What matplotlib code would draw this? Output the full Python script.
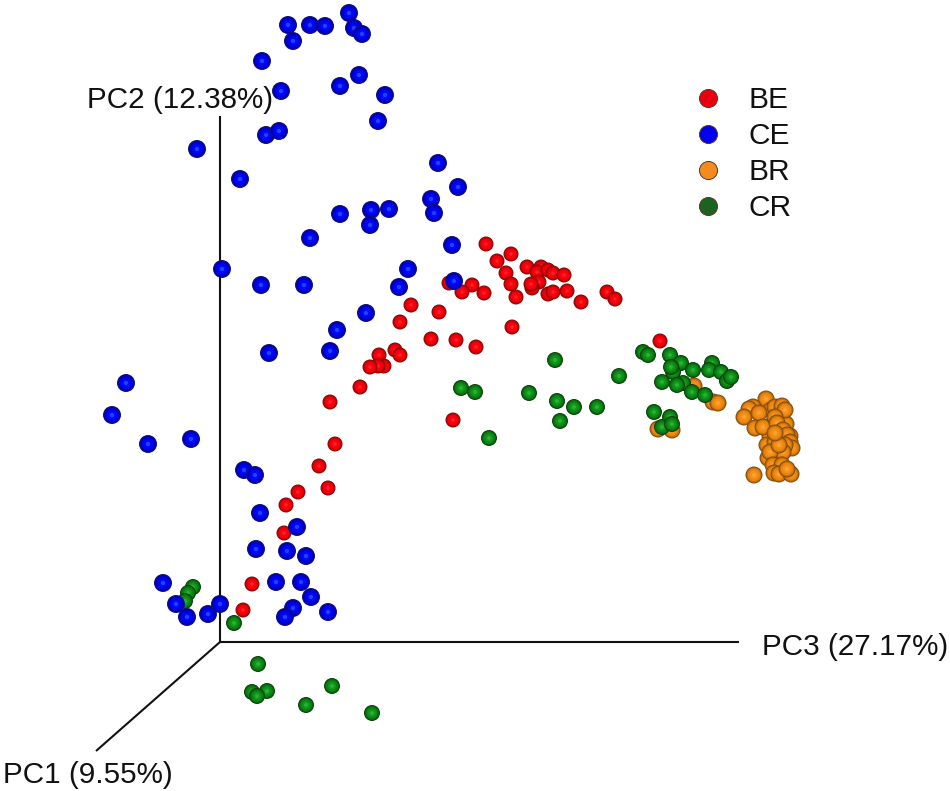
#!/usr/bin/env python3
"""3D PCoA style scatter of the four sample groups, drawn in picture coordinates."""

import matplotlib

matplotlib.use("Agg")
import matplotlib.pyplot as plt  # noqa: E402
from matplotlib.lines import Line2D  # noqa: E402
import numpy as np  # noqa: E402

WIDTH, HEIGHT = 950, 791

groups = ["BE", "CE", "BR", "CR"]
legend_colors = ["#e8000f", "#0000ee", "#f58a1f", "#1a6420"]
axis_labels = ["PC1 (9.55%)", "PC2 (12.38%)", "PC3 (27.17%)"]

be_x = [486, 511, 497, 506, 527, 541, 537, 548, 553, 564, 511, 539, 532, 531, 516, 548, 553,
        567, 581, 607, 615, 449, 472, 462, 484, 439, 512, 431, 456, 476, 411, 400, 395, 400,
        379, 384, 378, 370, 360, 330, 335, 319, 328, 298, 286, 284, 453, 660, 252, 243]
be_y = [244, 254, 261, 273, 267, 267, 272, 270, 273, 275, 284, 282, 288, 284, 297, 294, 292,
        291, 302, 292, 299, 283, 285, 292, 293, 312, 327, 339, 340, 347, 305, 322, 350, 355,
        355, 366, 366, 367, 387, 402, 444, 466, 488, 492, 505, 533, 420, 341, 584, 610]

ce_x = [288, 293, 310, 325, 349, 354, 362, 262, 281, 340, 359, 385, 378, 266, 279, 197, 240,
        438, 458, 431, 434, 340, 371, 389, 370, 310, 452, 222, 261, 304, 408, 399, 454, 366,
        337, 330, 269, 126, 112, 148, 191, 244, 255, 260, 297, 256, 287, 306, 163, 176, 187,
        208, 220, 276, 301, 311, 293, 285, 328]
ce_y = [25, 41, 25, 26, 13, 28, 34, 61, 91, 86, 75, 95, 121, 135, 131, 149, 179,
        163, 187, 199, 213, 214, 210, 209, 225, 238, 245, 269, 285, 285, 269, 287, 281, 313,
        330, 351, 353, 383, 415, 444, 439, 470, 475, 513, 527, 549, 551, 556, 583, 604, 617,
        614, 604, 582, 582, 597, 608, 617, 612]

br_x = [694, 713, 718, 658, 672, 766, 753, 749, 744, 771, 782, 786, 778, 772, 770, 780, 790,
        759, 755, 763, 775, 782, 785, 775, 777, 783, 787, 790, 792, 767, 785, 775, 777, 768,
        780, 783, 770, 779, 773, 782, 754, 774, 779, 791, 787, 775]
br_y = [386, 402, 403, 429, 430, 399, 407, 409, 417, 410, 418, 424, 413, 425, 436, 437, 436,
        413, 428, 427, 407, 406, 410, 417, 423, 430, 435, 442, 448, 445, 445, 442, 451, 458,
        458, 452, 452, 445, 465, 465, 475, 473, 474, 474, 469, 433]

cr_x = [193, 188, 185, 234, 258, 252, 267, 257, 332, 306, 372, 461, 475, 489, 529, 555, 557,
        574, 560, 597, 619, 643, 648, 670, 681, 673, 671, 693, 712, 709, 721, 727, 731, 662,
        683, 677, 692, 705, 654, 670, 662, 672]
cr_y = [587, 593, 601, 623, 664, 692, 691, 696, 686, 705, 713, 388, 392, 438, 393, 360, 401,
        407, 421, 407, 376, 352, 355, 355, 363, 372, 367, 370, 363, 370, 372, 381, 377, 382,
        383, 385, 392, 395, 412, 417, 427, 424]

# dark rim to lit centre, one colour per shading layer
be_ramp = ["#7a0a0a", "#c80004", "#ee0008", "#fa0010", "#ff2028"]
ce_ramp = ["#10107a", "#0000b8", "#0000e0", "#0008f8", "#2440ff"]
br_ramp = ["#7c4a10", "#c87008", "#ea8610", "#f49018", "#ffa030"]
cr_ramp = ["#0c400c", "#056a0e", "#0c8414", "#12961c", "#28b432"]


def draw_spheres(ax, xs, ys, ramp, diameter_px, zorder):
    """Draw shaded balls; one collection keeps each ball's layers together."""
    fractions = np.array([1.0, 0.88, 0.72, 0.50, 0.24])
    sizes = (diameter_px * fractions * 72 / 100) ** 2
    count = len(xs)
    ax.scatter(np.repeat(xs, len(ramp)), np.repeat(ys, len(ramp)),
               s=np.tile(sizes, count), c=ramp * count,
               linewidths=0, zorder=zorder)


def main():
    plt.rcParams["font.family"] = ["Liberation Sans", "DejaVu Sans"]
    fig = plt.figure(figsize=(WIDTH / 100, HEIGHT / 100), dpi=100)
    ax = fig.add_axes([0, 0, 1, 1])
    ax.set_xlim(0, WIDTH)
    ax.set_ylim(HEIGHT, 0)
    ax.axis("off")

    # the three PC axes meet at one origin
    origin = (220, 642)
    line_style = {"color": "#111111", "linewidth": 1.5, "zorder": 1, "solid_capstyle": "butt"}
    ax.plot([origin[0], 220], [origin[1], 116], **line_style)
    ax.plot([origin[0], 739], [origin[1], 642], **line_style)
    ax.plot([origin[0], 96], [origin[1], 751], **line_style)

    text_style = {"fontsize": 21.3, "color": "#111111", "ha": "left", "va": "baseline"}
    ax.text(3, 783, axis_labels[0], **text_style)
    ax.text(87, 108, axis_labels[1], **text_style)
    ax.text(762, 655, axis_labels[2], **text_style)

    draw_spheres(ax, br_x, br_y, br_ramp, 17, 2)
    draw_spheres(ax, be_x, be_y, be_ramp, 15, 3)
    draw_spheres(ax, cr_x, cr_y, cr_ramp, 16, 4)
    draw_spheres(ax, ce_x, ce_y, ce_ramp, 18, 5)

    handles = [Line2D([], [], linestyle="none", marker="o", markersize=13,
                      markerfacecolor=color, markeredgecolor="#5a3a20", markeredgewidth=0.7)
               for color in legend_colors]
    ax.legend(handles, groups, loc="upper left", bbox_to_anchor=(693 / WIDTH, 1 - 86 / HEIGHT),
              frameon=False, fontsize=21.5, labelspacing=0.27, handletextpad=0.87,
              handlelength=1.0, borderpad=0, borderaxespad=0, labelcolor="#111111")

    fig.savefig("out.png", dpi=100)
    plt.close(fig)


if __name__ == "__main__":
    main()
